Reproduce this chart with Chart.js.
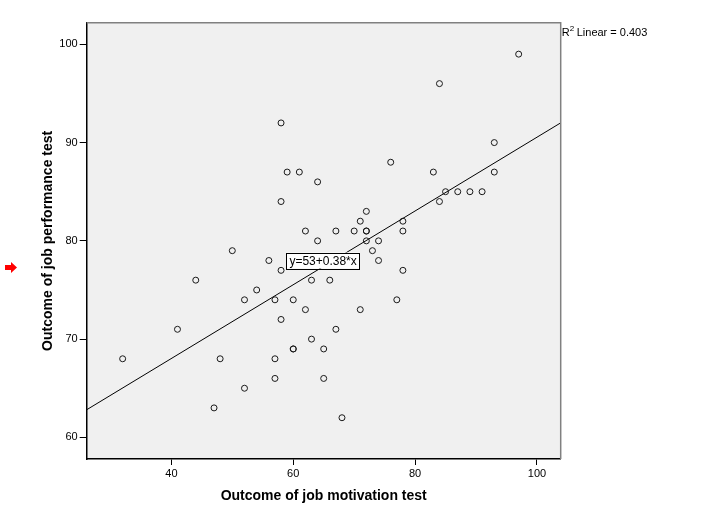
<!DOCTYPE html>
<html>
<head>
<meta charset="utf-8">
<script src="https://cdn.jsdelivr.net/npm/chart.js@4.4.1/dist/chart.umd.min.js"></script>
<style>
  html, body { margin: 0; padding: 0; background: #fff; }
  #wrap { width: 720px; height: 529px; }
</style>
</head>
<body>
<div id="wrap"><canvas id="scatter"></canvas></div>
<script>
// motivation test score (x) and job performance score (y), one pair per person
const motivation = [
    97, 84, 58, 93, 76, 59, 61, 83, 93, 64,
    85, 87, 89, 91, 58, 84, 72, 71, 78, 62,
    67, 70, 72, 72, 78, 64, 72, 74, 50, 73,
    56, 74, 58, 78, 44, 63, 66, 54, 52, 57,
    60, 77, 62, 71, 58, 41, 67, 63, 60, 60,
    65, 32, 48, 57, 57, 65, 52, 47, 68
];
const performance = [
    99, 96, 92, 90, 88, 87, 87, 87, 87, 86,
    85, 85, 85, 85, 84, 84, 83, 82, 82, 81,
    81, 81, 81, 81, 81, 80, 80, 80, 79, 79,
    78, 78, 77, 77, 76, 76, 76, 75, 74, 74,
    74, 74, 73, 73, 72, 71, 71, 70, 69, 69,
    69, 68, 68, 68, 66, 66, 65, 63, 62
];
const xTicks = [40, 60, 80, 100];
const yTicks = [60, 70, 80, 90, 100];
const xRange = [26.1, 103.9];
const yRange = [57.8, 102.2];
const fitLabel = 'y=53+0.38*x';
const r2Label = '0.403';

const points = motivation.map((x, i) => ({ x: x, y: performance[i] }));

// least squares fit line across the axis range
const n = points.length;
const mx = motivation.reduce((a, b) => a + b, 0) / n;
const my = performance.reduce((a, b) => a + b, 0) / n;
let sxy = 0, sxx = 0;
for (let i = 0; i < n; i++) {
    sxy += (motivation[i] - mx) * (performance[i] - my);
    sxx += (motivation[i] - mx) * (motivation[i] - mx);
}
const slope = sxy / sxx;
const intercept = my - slope * mx;
const fitLine = xRange.map(x => ({ x: x, y: intercept + slope * x }));

const font = 'Arial, "Liberation Sans", sans-serif';

// plot background, gray top/right frame, labels and the red marker
const decor = {
    id: 'decor',
    beforeDraw(chart) {
        const { ctx, chartArea: a } = chart;
        ctx.save();
        ctx.fillStyle = '#ffffff';
        ctx.fillRect(0, 0, chart.width, chart.height);
        ctx.fillStyle = '#f0f0f0';
        ctx.fillRect(a.left, a.top, a.right - a.left, a.bottom - a.top);
        ctx.restore();
    },
    afterDraw(chart) {
        const { ctx, chartArea: a, scales } = chart;
        ctx.save();
        ctx.strokeStyle = '#808080';
        ctx.lineWidth = 1.5;
        ctx.beginPath();
        ctx.moveTo(a.left, a.top);
        ctx.lineTo(a.right, a.top);
        ctx.lineTo(a.right, a.bottom);
        ctx.stroke();

        // equation box
        const cx = scales.x.getPixelForValue(64.9);
        const cy = scales.y.getPixelForValue(78);
        ctx.font = '12px ' + font;
        const w = ctx.measureText(fitLabel).width + 6;
        const h = 16;
        ctx.fillStyle = '#ffffff';
        ctx.fillRect(cx - w / 2, cy - h / 2, w, h);
        ctx.strokeStyle = '#000000';
        ctx.lineWidth = 1;
        ctx.strokeRect(Math.round(cx - w / 2) + 0.5, Math.round(cy - h / 2) + 0.5, Math.round(w), h);
        ctx.fillStyle = '#000000';
        ctx.textAlign = 'center';
        ctx.textBaseline = 'middle';
        ctx.fillText(fitLabel, cx, cy + 1);

        // R squared note
        ctx.textAlign = 'left';
        ctx.textBaseline = 'alphabetic';
        ctx.font = '11px ' + font;
        const rx = a.right + 1;
        ctx.fillText('R', rx, a.top + 13);
        const rw = ctx.measureText('R').width;
        ctx.font = '8px ' + font;
        ctx.fillText('2', rx + rw, a.top + 8);
        ctx.font = '11px ' + font;
        ctx.fillText(' Linear = ' + r2Label, rx + rw + 4, a.top + 13);

        // red arrow
        ctx.fillStyle = '#ff0000';
        ctx.beginPath();
        ctx.moveTo(5, 265);
        ctx.lineTo(11, 265);
        ctx.lineTo(11, 262);
        ctx.lineTo(17, 267.5);
        ctx.lineTo(11, 273);
        ctx.lineTo(11, 270);
        ctx.lineTo(5, 270);
        ctx.closePath();
        ctx.fill();
        ctx.restore();
    }
};

new Chart(document.getElementById('scatter'), {
    type: 'scatter',
    data: {
        datasets: [{
            data: points,
            pointRadius: 3,
            pointHoverRadius: 3,
            pointBorderWidth: 1,
            pointBorderColor: '#1a1a1a',
            pointBackgroundColor: 'rgba(0,0,0,0)'
        }, {
            type: 'line',
            data: fitLine,
            borderColor: '#000000',
            borderWidth: 1,
            pointRadius: 0,
            fill: false
        }]
    },
    options: {
        responsive: true,
        maintainAspectRatio: false,
        animation: false,
        events: [],
        layout: {
            padding: { left: 0, top: 22.7, right: 159.3, bottom: 0 }
        },
        plugins: {
            legend: { display: false },
            tooltip: { enabled: false }
        },
        scales: {
            x: {
                type: 'linear',
                min: xRange[0],
                max: xRange[1],
                afterBuildTicks: s => { s.ticks = xTicks.map(v => ({ value: v })); },
                afterFit: s => { s.height = 70; },
                grid: { drawOnChartArea: false, drawTicks: true, tickLength: 6, tickColor: '#000000', tickWidth: 1 },
                border: { display: true, color: '#000000', width: 1.5 },
                ticks: {
                    padding: 2,
                    color: '#000000',
                    font: { size: 11, family: font }
                },
                title: {
                    display: true,
                    text: 'Outcome of job motivation test',
                    color: '#000000',
                    font: { size: 14, weight: 'bold', family: font },
                    padding: { top: 0, bottom: 24.6 }
                }
            },
            y: {
                type: 'linear',
                min: yRange[0],
                max: yRange[1],
                afterBuildTicks: s => { s.ticks = yTicks.map(v => ({ value: v })); },
                afterFit: s => { s.width = 86.7; },
                grid: { drawOnChartArea: false, drawTicks: true, tickLength: 7, tickColor: '#000000', tickWidth: 1 },
                border: { display: true, color: '#000000', width: 1.5 },
                ticks: {
                    padding: 2,
                    color: '#000000',
                    font: { size: 11, family: font }
                },
                title: {
                    display: true,
                    text: 'Outcome of job performance test',
                    color: '#000000',
                    font: { size: 14, weight: 'bold', family: font },
                    padding: { top: 39.6, bottom: 0 }
                }
            }
        }
    },
    plugins: [decor]
});
</script>
</body>
</html>
